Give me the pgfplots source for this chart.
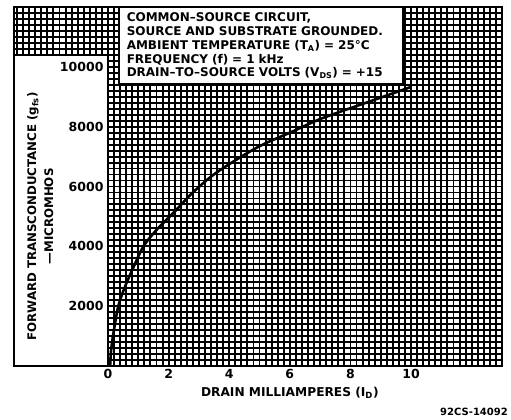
\documentclass[border=0pt]{standalone}
\usepackage{fontspec}
\setmainfont{DejaVu Sans}
\usepackage{pgfplots}
\pgfplotsset{compat=1.18}
\begin{document}
\begin{tikzpicture}
% auxiliary grid to the left (decorative frame region)
\begin{axis}[
 at={(-93.954pt,0pt)}, anchor=south west,
 scale only axis, width=93.954pt, height=359pt,
 xmin=-3.1, xmax=0, ymin=0, ymax=12000,
 xtick={-3,-2.8,...,-0.1}, ytick={10400,10600,...,11900},
 xticklabels={}, yticklabels={},
 ticklabel style={inner sep=0pt},
 grid=major, major grid style={black, line width=1.9pt},
 major tick length=0pt,
 axis line style={line width=1.5pt}, clip=false
]
\filldraw[fill=white, draw=black, line width=1.5pt] (axis cs:-3.1,0) rectangle (axis cs:0,10400);
\end{axis}
\begin{axis}[
 name=main, at={(0pt,0pt)}, anchor=south west,
 scale only axis, width=394pt, height=359pt,
 xmin=0, xmax=13, ymin=0, ymax=12000,
 xtick={0,2,...,10}, ytick={2000,4000,...,10000},
 minor xtick={0,0.2,...,13}, minor ytick={0,200,...,12000},
 grid=minor, minor grid style={black, line width=1.9pt},
 major tick length=0pt, minor tick length=0pt,
 axis line style={line width=1.5pt},
 scaled y ticks=false,
 /pgf/number format/1000 sep={},
 /pgf/number format/assume math mode=true,
 ticklabel style={font=\bfseries\fontsize{12.5}{12.5}\selectfont},
 yticklabel style={xshift=-1pt},
 xlabel={DRAIN MILLIAMPERES (I\textsubscript{D})},
 ylabel={FORWARD TRANSCONDUCTANCE (g\textsubscript{fs})\\ ---MICROMHOS},
 every axis x label/.style={at={(axis description cs:0.4615,0)}, anchor=north, yshift=-18pt, font=\bfseries\fontsize{12.2}{12}\selectfont},
 every axis y label/.style={at={(axis description cs:-0.172,0.4167)}, anchor=center, rotate=90, align=center, font=\bfseries\fontsize{11.8}{17}\selectfont},
 clip=false
]
\addplot[black, line width=2.6pt, smooth, tension=0.5] coordinates {
 (0.07,0) (0.10,500) (0.18,1100) (0.34,2000) (0.56,2650) (0.84,3300)
 (1.17,4000) (1.62,4570) (2.17,5130) (2.8,5800) (3.6,6480) (4.93,7310)
 (6.05,7820) (7.04,8270) (8.6,8830) (9.7,9220) (10,9330)
};
\node[draw=black, fill=white, line width=1.5pt, anchor=north west, inner xsep=8pt, inner ysep=2pt,
 minimum width=284pt, minimum height=76pt, text width=268pt, align=left,
 font=\bfseries\fontsize{12}{13.8}\selectfont] at (axis cs:0.33,12000)
 {COMMON--SOURCE CIRCUIT,\\
  SOURCE AND SUBSTRATE GROUNDED.\\
  AMBIENT TEMPERATURE (T\textsubscript{A}) = 25°C\\
  FREQUENCY (f) = 1 kHz\\
  DRAIN--TO--SOURCE VOLTS (V\textsubscript{DS}) = +15};
\end{axis}
\node[font=\bfseries\fontsize{10}{10}\selectfont] at (366pt,-46pt) {92CS-14092};
\pgfresetboundingbox
\path[use as bounding box] (-108pt,-54pt) rectangle (403pt,366pt);
\end{tikzpicture}
\end{document}
